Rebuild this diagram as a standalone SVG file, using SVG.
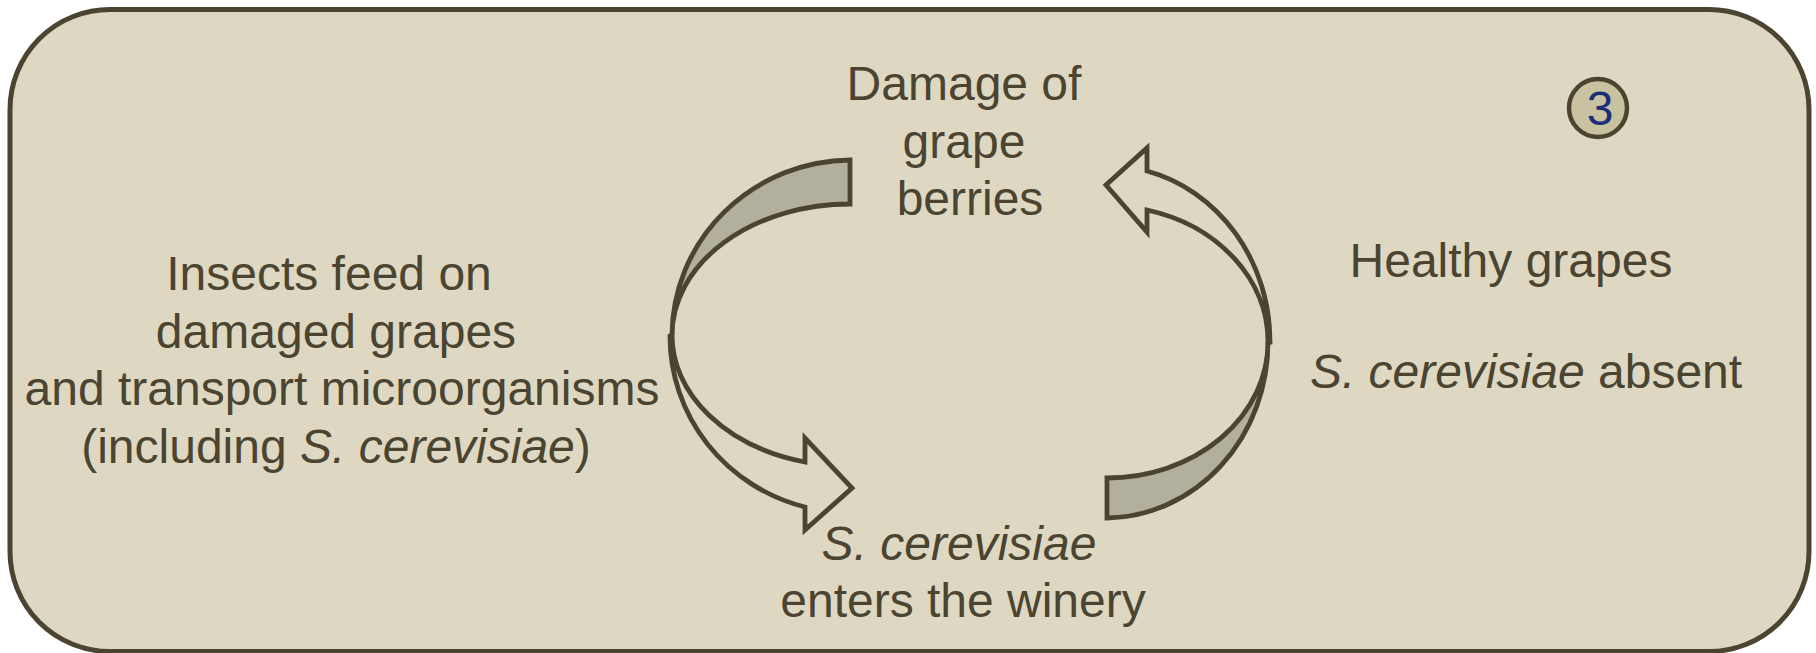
<svg xmlns="http://www.w3.org/2000/svg" width="1816" height="653" viewBox="0 0 1816 653">
<style>
.txt{font-family:"Liberation Sans",Arial,sans-serif;font-size:48px;fill:#4a4430;text-anchor:middle}
.it{font-style:italic}
.edge{stroke:#4a4430;stroke-width:4.8;stroke-linejoin:miter}
.band{fill:#b2af9c}
.front{fill:#ded8c3}
</style>
<rect id="frame" x="10" y="9.5" width="1799" height="642" rx="100" ry="100" fill="#ded8c3" stroke="#4a4430" stroke-width="5"/>
<g id="connectors">
  <g id="arrow-left">
    <path class="band edge" d="M 850,160 L 850,204 A 178 131 0 0 0 672,335 A 180 176 0 0 1 850,160 Z"/>
    <path class="front edge" d="M 670,336 A 180 176 0 0 0 805,507 L 805,530 L 852,488 L 805,438 L 805,462 A 178 131 0 0 1 672,335 Z"/>
  </g>
  <g id="arrow-right">
    <path class="band edge" d="M 1107,518 L 1107,478 A 161 136 0 0 0 1268,342 A 163 176 0 0 1 1107,518 Z"/>
    <path class="front edge" d="M 1270,342 A 163 176 0 0 0 1147,171 L 1147,148 L 1106,185 L 1147,232 L 1147,210 A 161 136 0 0 1 1268,342 Z"/>
  </g>
</g>
<g id="node-damage">
  <text class="txt" x="964" y="100">Damage of</text>
  <text class="txt" x="964" y="158">grape</text>
  <text class="txt" x="970" y="215">berries</text>
</g>
<g id="node-insects">
  <text class="txt" x="329" y="290">Insects feed on</text>
  <text class="txt" x="336" y="348">damaged grapes</text>
  <text class="txt" x="342" y="405">and transport microorganisms</text>
  <text class="txt" x="336" y="463">(including <tspan class="it">S. cerevisiae</tspan>)</text>
</g>
<g id="node-winery">
  <text class="txt" x="959" y="560"><tspan class="it">S. cerevisiae</tspan></text>
  <text class="txt" x="963" y="617">enters the winery</text>
</g>
<g id="node-healthy">
  <text class="txt" x="1511" y="277">Healthy grapes</text>
  <text class="txt" x="1526" y="388"><tspan class="it">S. cerevisiae</tspan> absent</text>
</g>
<g id="node-badge">
  <circle cx="1598" cy="108" r="29" fill="#c9c2a1" stroke="#4a4430" stroke-width="4.5"/>
  <text x="1600" y="125" font-family="Liberation Sans, Arial, sans-serif" font-size="48" fill="#1a2f78" text-anchor="middle">3</text>
</g>
</svg>
